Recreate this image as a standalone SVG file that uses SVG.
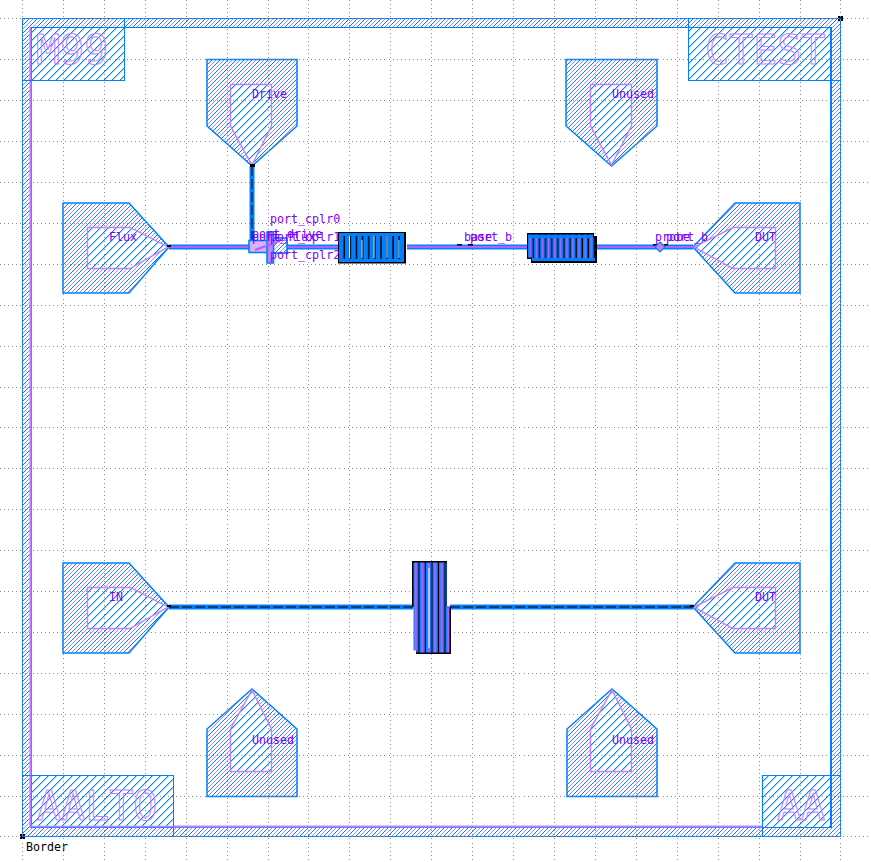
<svg xmlns="http://www.w3.org/2000/svg" width="871" height="862" viewBox="0 0 871 862">
<style>
text{font-family:"DejaVu Sans Mono","Liberation Mono",monospace}
.grid{stroke:#8c8c8c;stroke-width:1;stroke-dasharray:1 3.09;fill:none;shape-rendering:crispEdges}
.pad{fill:url(#hB2);stroke:#0080ff;stroke-width:1.5}
.inner{fill:url(#hB1);stroke:#c080ff;stroke-width:1.4}
.box{fill:url(#hB1);stroke:none}
.ol{fill:none;stroke:#0080ff;stroke-width:1.6;shape-rendering:crispEdges}
.lab{font-size:11.67px;fill:#7a00ff}
.big{font-size:40px;fill:none;stroke:#c080ff;stroke-width:1}
.wgb{stroke:#0080ff;stroke-width:5;fill:none}
.wgp{stroke:#b060ff;stroke-width:2;fill:none}
.wgk{stroke:#000;stroke-width:1;fill:none;stroke-dasharray:10 3}
.mk{fill:#000}
</style>
<defs>
<pattern id="hB1" width="8" height="8" patternUnits="userSpaceOnUse"><rect width="8" height="8" fill="#fff"/><path fill="#a0d0ff" d="M1 7h1v1h-1zM2 6h1v1h-1zM3 5h1v1h-1zM4 4h1v1h-1zM5 3h1v1h-1zM6 2h1v1h-1zM7 1h1v1h-1zM0 0h1v1h-1z" shape-rendering="crispEdges"/><path fill="#0080ff" d="M0 7h1v1h-1zM1 6h1v1h-1zM2 5h1v1h-1zM3 4h1v1h-1zM4 3h1v1h-1zM5 2h1v1h-1zM6 1h1v1h-1zM7 0h1v1h-1z" shape-rendering="crispEdges"/></pattern>
<pattern id="hB2" width="8" height="8" patternUnits="userSpaceOnUse"><rect width="8" height="8" fill="#fff"/><path fill="#0080ff" d="M0 7h1v1h-1zM1 6h1v1h-1zM2 5h1v1h-1zM3 4h1v1h-1zM4 3h1v1h-1zM5 2h1v1h-1zM6 1h1v1h-1zM7 0h1v1h-1z" shape-rendering="crispEdges"/><path fill="#c080ff" d="M0 3h1v1h-1zM1 2h1v1h-1zM2 1h1v1h-1zM3 0h1v1h-1zM4 7h1v1h-1zM5 6h1v1h-1zM6 5h1v1h-1zM7 4h1v1h-1z" shape-rendering="crispEdges"/></pattern>
<pattern id="fa" x="339" y="0" width="6.100" height="40" patternUnits="userSpaceOnUse"><rect width="6.100" height="40" fill="#000"/><rect width="4.600" height="40" fill="#0080ff"/></pattern>
<pattern id="fb" x="528" y="0" width="6.100" height="40" patternUnits="userSpaceOnUse"><rect width="6.100" height="40" fill="#000"/><rect width="4.800" height="40" fill="#0080ff"/><rect x="1.600" width="1.400" height="40" fill="#b060ff"/></pattern>
<pattern id="fc" x="413" y="0" width="6.500" height="100" patternUnits="userSpaceOnUse"><rect width="6.500" height="100" fill="#000"/><rect width="5.400" height="100" fill="#0080ff"/><rect x="1.500" width="2.400" height="100" fill="#b060ff"/></pattern>
</defs>
<g id="border">
<path d="M22.500 18.500H840.500V836.500H22.500ZM31 27.500V827.500H831V27.500Z" fill="url(#hB2)" fill-rule="evenodd" stroke="#0080ff" stroke-width="1.600" shape-rendering="crispEdges"/>
<path d="M30.500 27.500V826.500H831" fill="none" stroke="#c080ff" stroke-width="2"/>
<rect class="mk" x="20" y="834" width="5" height="5"/>
<rect class="mk" x="838" y="16" width="5" height="5"/>
<text class="lab" x="26" y="851" style="fill:#000">Border</text>
</g>
<g id="mark-m99"><rect class="box" x="31" y="27.500" width="93.500" height="53"/><path class="ol" d="M22.500 18.500H124.500V80.500H22.500ZM31 27.500H124.500M31 27.500V80.500"/><path d="M30.500 27.500V80" stroke="#c080ff" stroke-width="1.500"/><text class="big" x="36" y="64">M99</text></g>
<g id="mark-ctest"><rect class="box" x="688.500" y="27.500" width="142.500" height="53"/><path class="ol" d="M688.500 18.500H840.500V80.500H688.500ZM688.500 27.500H831V80.500"/><text class="big" x="705" y="64">CTEST</text></g>
<g id="mark-aalto"><rect class="box" x="31" y="775.500" width="142.500" height="52"/><path class="ol" d="M22.500 775.500H173.500V836.500H22.500ZM31 775.500V827.500H173.500"/><path d="M30.500 775.500V826.500H173.500" stroke="#c080ff" stroke-width="1.500" fill="none"/><text class="big" x="37" y="820">AALTO</text></g>
<g id="mark-aa"><rect class="box" x="762.500" y="775.500" width="68.500" height="52"/><path class="ol" d="M762.500 775.500H840.500V836.500H762.500ZM831 775.500V827.500H762.500"/><text class="big" x="777" y="820">AA</text></g>
<g id="pad-drive"><polygon class="pad" points="207,59.500 297,59.500 297,126 252,166 207,126"/><path class="inner" d="M230.500 84.500H271.500V126L252 165L230.500 126Z"/><text class="lab" x="252" y="98">Drive</text></g>
<g id="pad-unused-tr"><polygon class="pad" points="566,59.500 657,59.500 657,126 611.500,166 566,126"/><path class="inner" d="M590.500 84.500H631.500V126L611.500 165L590.500 126Z"/><text class="lab" x="612" y="98">Unused</text></g>
<g id="pad-flux"><polygon class="pad" points="63,203 129,203 169,247 129,293 63,293"/><path class="inner" d="M87.500 227.500H130L168 247L130 268.500H87.500Z"/><text class="lab" x="109" y="241">Flux</text></g>
<g id="pad-dut-top"><polygon class="pad" points="800,203 735,203 693,247 735,293 800,293"/><path class="inner" d="M775.500 227.500H733L694 247L733 268.500H775.500Z"/><text class="lab" x="755" y="241">DUT</text></g>
<g id="pad-in"><polygon class="pad" points="63,563 129,563 169,607 129,653 63,653"/><path class="inner" d="M87.500 587.500H130L168 607L130 628.500H87.500Z"/><text class="lab" x="109" y="601">IN</text></g>
<g id="pad-dut-bottom"><polygon class="pad" points="800,563 735,563 693,607 735,653 800,653"/><path class="inner" d="M775.500 587.500H733L694 607L733 628.500H775.500Z"/><text class="lab" x="755" y="601">DUT</text></g>
<g id="pad-unused-bl"><polygon class="pad" points="207,796.500 297,796.500 297,729 252,689 207,729"/><path class="inner" d="M230.500 771.500H271.500V729L252 690L230.500 729Z"/><text class="lab" x="252" y="744">Unused</text></g>
<g id="pad-unused-br"><polygon class="pad" points="567,796.500 657,796.500 657,729 612,689 567,729"/><path class="inner" d="M590.500 771.500H631.500V729L612 690L590.500 729Z"/><text class="lab" x="612" y="744">Unused</text></g>
<path class="grid" d="M22.500 0V862M63.500 0V862M104.500 0V862M145.500 0V862M186.500 0V862M227.500 0V862M268.500 0V862M308.500 0V862M349.500 0V862M390.500 0V862M431.500 0V862M472.500 0V862M513.500 0V862M554.500 0V862M595.500 0V862M636.500 0V862M677.500 0V862M718.500 0V862M759.500 0V862M800.500 0V862M840.500 0V862M0 18.500H871M0 59.500H871M0 100.500H871M0 141.500H871M0 182.500H871M0 223.500H871M0 264.500H871M0 305.500H871M0 346.500H871M0 387.500H871M0 427.500H871M0 468.500H871M0 509.500H871M0 550.500H871M0 591.500H871M0 632.500H871M0 673.500H871M0 714.500H871M0 755.500H871M0 796.500H871M0 836.500H871"/>
<g id="connectors">
<path class="wgb" d="M252 166V246M169 247H339M407 247H528M597 247H693M169 607H413M450 607H693"/>
<path class="wgp" d="M169 247H339M407 247H528M597 247H693"/>
<path class="wgk" d="M252 166V246M169 607H413M450 607H693"/>
<g class="mk"><rect x="167" y="245" width="4" height="2"/><rect x="250" y="164" width="5" height="3"/><rect x="249" y="243" width="5" height="2"/><rect x="457" y="244" width="5" height="1.500"/><rect x="468" y="244" width="5" height="1.500"/><rect x="653" y="244" width="4" height="1.500"/><rect x="664" y="244" width="4" height="1.500"/><rect x="167" y="605" width="4" height="2"/><rect x="690" y="605" width="4" height="2"/></g>
</g>
<g id="coupler">
<rect x="249" y="240.500" width="38" height="12" fill="#d9b0fa" stroke="#0080ff" stroke-width="1.600"/>
<rect x="272" y="238" width="15" height="15" fill="url(#hB2)" stroke="#0080ff" stroke-width="1.600"/>
<rect x="267" y="232" width="6.500" height="31" fill="#c080ff" stroke="#0080ff" stroke-width="1.600"/>
<path d="M255 250L280 241" stroke="#b060ff" stroke-width="2" fill="none"/>
</g>
<g id="resonator-1">
<rect x="338" y="232" width="68" height="31.500" fill="#000"/>
<rect x="339" y="233.500" width="65" height="28" fill="url(#fa)"/>
<rect x="339" y="233" width="65" height="3" fill="#0080ff"/><rect x="339" y="259" width="65" height="3" fill="#0080ff"/>
<path d="M349.500 236V258M362 240V258M374 236V258M387 236V258M399 240V258" stroke="#cfe8ff" stroke-width="1"/>
</g>
<g id="resonator-2">
<rect x="527" y="233" width="67" height="26" fill="#000"/><rect x="531" y="236" width="66" height="27" fill="#000"/>
<rect x="528" y="234.500" width="65" height="23" fill="url(#fb)"/><rect x="532" y="238" width="63" height="23" fill="url(#fb)"/>
<rect x="528" y="235" width="65" height="3" fill="#0080ff"/><rect x="532" y="258" width="63" height="3" fill="#0080ff"/>
</g>
<g id="resonator-3">
<rect x="412" y="561" width="35" height="46" fill="#000"/><rect x="416" y="607" width="35" height="47" fill="#000"/>
<rect x="413.500" y="562.500" width="33" height="88" fill="url(#fc)"/><rect x="416.500" y="606" width="33" height="46.500" fill="url(#fc)"/>
<path d="M429 568V648" stroke="#fff" stroke-width="1"/>
</g>
<g id="probe"><polygon points="660,242 665,247 660,252 655,247" fill="#c080ff" stroke="#0080ff" stroke-width="1.200"/></g>
<g id="port-labels">
<text class="lab" x="270" y="223">port_cplr0</text>
<text class="lab" x="252" y="238">port_drive</text>
<text class="lab" x="252" y="241">port_flux</text>
<text class="lab" x="270" y="241">port_cplr1</text>
<text class="lab" x="270" y="259">port_cplr2</text>
<text class="lab" x="464" y="241">base</text>
<text class="lab" x="470" y="241">port_b</text>
<text class="lab" x="655" y="241">probe</text>
<text class="lab" x="666" y="241">port_b</text>
</g>
</svg>
